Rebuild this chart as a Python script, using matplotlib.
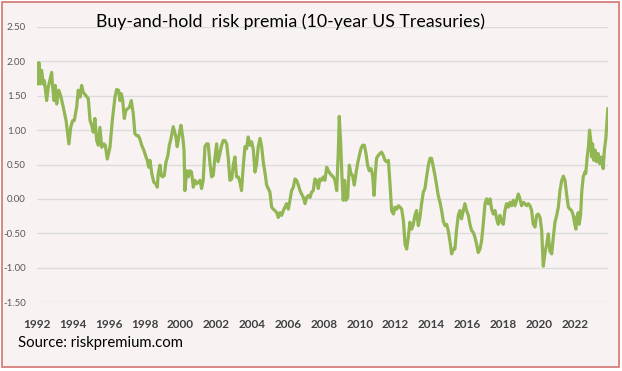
import matplotlib
matplotlib.use("Agg")
import matplotlib.pyplot as plt
from matplotlib.patches import Rectangle
from matplotlib.ticker import FormatStrFormatter

# decimal year, buy-and-hold risk premium
years = [
    1992.00, 1992.02, 1992.11, 1992.17, 1992.26, 1992.35, 1992.41, 1992.54, 1992.63, 1992.82,
    1992.87, 1992.95, 1993.02, 1993.10, 1993.21, 1993.32, 1993.47, 1993.62, 1993.78, 1993.88,
    1993.99, 1994.08, 1994.21, 1994.30, 1994.40, 1994.49, 1994.58, 1994.73, 1994.86, 1994.96,
    1995.05, 1995.14, 1995.23, 1995.33, 1995.42, 1995.51, 1995.61, 1995.74, 1995.81, 1995.92,
    1996.07, 1996.20, 1996.35, 1996.44, 1996.55, 1996.63, 1996.70, 1996.78, 1996.87, 1996.96,
    1997.05, 1997.15, 1997.26, 1997.37, 1997.46, 1997.56, 1997.65, 1997.74, 1997.84, 1997.97,
    1998.08, 1998.15, 1998.23, 1998.30, 1998.41, 1998.52, 1998.63, 1998.71, 1998.76, 1998.86,
    1998.93, 1999.00, 1999.10, 1999.19, 1999.30, 1999.38, 1999.47, 1999.60, 1999.75, 1999.82,
    1999.94, 2000.03, 2000.13, 2000.20, 2000.25, 2000.35, 2000.44, 2000.53, 2000.62, 2000.72,
    2000.81, 2000.90, 2000.99, 2001.09, 2001.18, 2001.27, 2001.37, 2001.46, 2001.55, 2001.65,
    2001.74, 2001.83, 2001.93, 2002.02, 2002.10, 2002.20, 2002.30, 2002.39, 2002.48, 2002.58,
    2002.67, 2002.76, 2002.86, 2002.95, 2003.04, 2003.13, 2003.23, 2003.32, 2003.41, 2003.50,
    2003.60, 2003.69, 2003.78, 2003.88, 2003.97, 2004.06, 2004.16, 2004.25, 2004.34, 2004.44,
    2004.53, 2004.62, 2004.71, 2004.81, 2004.90, 2004.99, 2005.09, 2005.18, 2005.27, 2005.37,
    2005.46, 2005.55, 2005.65, 2005.74, 2005.83, 2005.92, 2006.02, 2006.11, 2006.20, 2006.30,
    2006.39, 2006.48, 2006.58, 2006.67, 2006.76, 2006.86, 2006.95, 2007.04, 2007.14, 2007.23,
    2007.32, 2007.41, 2007.50, 2007.60, 2007.69, 2007.78, 2007.88, 2007.97, 2008.06, 2008.16,
    2008.25, 2008.34, 2008.44, 2008.53, 2008.62, 2008.72, 2008.81, 2008.86, 2008.94, 2009.01,
    2009.08, 2009.16, 2009.23, 2009.33, 2009.42, 2009.51, 2009.60, 2009.70, 2009.79, 2009.88,
    2009.98, 2010.07, 2010.16, 2010.26, 2010.35, 2010.44, 2010.53, 2010.63, 2010.72, 2010.80,
    2010.87, 2010.94, 2011.03, 2011.13, 2011.22, 2011.32, 2011.41, 2011.50, 2011.60, 2011.69,
    2011.78, 2011.88, 2011.97, 2012.06, 2012.16, 2012.25, 2012.34, 2012.44, 2012.53, 2012.62,
    2012.71, 2012.80, 2012.90, 2012.99, 2013.08, 2013.17, 2013.27, 2013.36, 2013.45, 2013.55,
    2013.64, 2013.73, 2013.83, 2013.92, 2014.01, 2014.11, 2014.20, 2014.29, 2014.38, 2014.48,
    2014.57, 2014.66, 2014.76, 2014.85, 2014.94, 2015.04, 2015.13, 2015.22, 2015.31, 2015.40,
    2015.50, 2015.59, 2015.68, 2015.78, 2015.87, 2015.96, 2016.06, 2016.15, 2016.24, 2016.34,
    2016.43, 2016.52, 2016.61, 2016.71, 2016.80, 2016.89, 2016.99, 2017.08, 2017.17, 2017.27,
    2017.36, 2017.45, 2017.55, 2017.64, 2017.73, 2017.82, 2017.92, 2018.01, 2018.10, 2018.19,
    2018.29, 2018.38, 2018.47, 2018.57, 2018.66, 2018.75, 2018.85, 2018.94, 2019.03, 2019.13,
    2019.22, 2019.31, 2019.40, 2019.50, 2019.59, 2019.68, 2019.78, 2019.87, 2019.96, 2020.06,
    2020.15, 2020.24, 2020.34, 2020.43, 2020.52, 2020.61, 2020.71, 2020.80, 2020.89, 2020.99,
    2021.08, 2021.17, 2021.27, 2021.36, 2021.45, 2021.54, 2021.64, 2021.73, 2021.82, 2021.91,
    2022.00, 2022.06, 2022.10, 2022.19, 2022.24, 2022.32, 2022.39, 2022.47, 2022.56, 2022.61,
    2022.69, 2022.76, 2022.82, 2022.89, 2022.93, 2022.99, 2023.06, 2023.13, 2023.21, 2023.30,
    2023.39, 2023.49, 2023.58, 2023.65, 2023.73, 2023.80, 2023.84,
]
premia = [
    1.97, 1.67, 1.98, 1.67, 1.87, 1.67, 1.72, 1.43, 1.63, 1.84,
    1.63, 1.43, 1.65, 1.38, 1.58, 1.50, 1.33, 1.14, 0.80, 1.04,
    1.14, 1.14, 1.33, 1.58, 1.48, 1.65, 1.55, 1.50, 1.46, 1.14,
    1.07, 0.97, 1.17, 0.85, 0.78, 1.04, 0.75, 0.80, 0.78, 0.58,
    0.75, 1.14, 1.48, 1.59, 1.58, 1.43, 1.53, 1.43, 1.17, 1.29,
    1.31, 1.33, 1.43, 1.24, 0.95, 0.92, 0.92, 0.87, 0.78, 0.70,
    0.61, 0.56, 0.46, 0.56, 0.36, 0.24, 0.22, 0.17, 0.36, 0.49,
    0.34, 0.32, 0.34, 0.53, 0.63, 0.78, 0.87, 1.05, 0.90, 0.76,
    0.95, 1.07, 0.90, 0.71, 0.12, 0.41, 0.32, 0.41, 0.39, 0.17,
    0.27, 0.22, 0.24, 0.27, 0.15, 0.27, 0.76, 0.80, 0.80, 0.51,
    0.32, 0.34, 0.61, 0.80, 0.54, 0.66, 0.78, 0.85, 0.85, 0.80,
    0.59, 0.27, 0.29, 0.49, 0.61, 0.32, 0.32, 0.24, 0.12, 0.46,
    0.76, 0.73, 0.90, 0.78, 0.83, 0.73, 0.39, 0.51, 0.76, 0.88,
    0.76, 0.54, 0.39, 0.20, 0.15, 0.10, -0.12, -0.15, -0.17, -0.20,
    -0.27, -0.20, -0.24, -0.17, -0.12, -0.07, -0.15, -0.02, 0.12, 0.17,
    0.29, 0.27, 0.20, 0.12, 0.07, 0.02, -0.07, 0.02, 0.05, 0.02,
    0.10, 0.12, 0.29, 0.27, 0.15, 0.29, 0.27, 0.32, 0.27, 0.46,
    0.41, 0.37, 0.34, 0.32, 0.27, 0.12, 0.71, 1.20, 0.80, 0.32,
    -0.02, 0.27, -0.02, 0.02, 0.49, 0.37, 0.34, 0.20, 0.37, 0.51,
    0.63, 0.73, 0.78, 0.78, 0.66, 0.49, 0.41, 0.44, 0.34, 0.05,
    0.37, 0.59, 0.63, 0.66, 0.68, 0.63, 0.56, 0.54, 0.56, 0.22,
    -0.17, -0.22, -0.12, -0.15, -0.10, -0.12, -0.15, -0.32, -0.66, -0.73,
    -0.56, -0.34, -0.44, -0.37, -0.24, -0.17, -0.39, -0.27, -0.07, 0.10,
    0.15, 0.32, 0.49, 0.59, 0.59, 0.46, 0.34, 0.20, 0.05, -0.05,
    -0.17, -0.32, -0.39, -0.37, -0.46, -0.63, -0.80, -0.73, -0.73, -0.46,
    -0.24, -0.17, -0.29, -0.17, -0.07, -0.17, -0.24, -0.37, -0.46, -0.49,
    -0.56, -0.66, -0.78, -0.73, -0.61, -0.37, -0.07, 0.00, -0.07, 0.00,
    -0.15, -0.22, -0.17, -0.29, -0.37, -0.24, -0.34, -0.37, -0.17, -0.07,
    -0.12, -0.05, -0.10, -0.02, -0.10, -0.02, 0.07, 0.00, -0.10, -0.05,
    -0.07, -0.10, -0.07, -0.10, -0.17, -0.37, -0.41, -0.24, -0.22, -0.27,
    -0.46, -0.98, -0.78, -0.66, -0.51, -0.76, -0.80, -0.56, -0.34, -0.24,
    -0.12, 0.12, 0.27, 0.33, 0.27, 0.07, -0.12, -0.15, -0.17, -0.24,
    -0.37, -0.44, -0.27, -0.20, -0.37, -0.24, 0.12, 0.32, 0.39, 0.37,
    0.61, 0.76, 1.00, 0.85, 0.61, 0.80, 0.56, 0.71, 0.54, 0.66,
    0.51, 0.61, 0.44, 0.71, 0.88, 1.15, 1.31,
]

x_ticks = list(range(1992, 2023, 2))
y_ticks = [-1.5, -1.0, -0.5, 0.0, 0.5, 1.0, 1.5, 2.0, 2.5]

W, H = 622, 371
fig = plt.figure(figsize=(W / 100, H / 100), dpi=100, facecolor="white")

# pinkish panel with red frame, behind everything
fig.patches.append(Rectangle((2 / W, 4 / H), 617 / W, 365 / H, transform=fig.transFigure,
                             facecolor="#f8f3f2", edgecolor="#d47470", linewidth=1.2, zorder=-5))

ax = fig.add_axes([37 / W, 1 - 302 / H, 571 / W, 275 / H], zorder=2)
ax.set_facecolor("none")

ax.plot(years, premia, color="#92b654", linewidth=2.3, solid_joinstyle="round", zorder=3)

ax.set_xlim(1992, 2023.85)
ax.set_ylim(-1.5, 2.5)
ax.set_xticks(x_ticks)
ax.set_yticks(y_ticks)
ax.yaxis.set_major_formatter(FormatStrFormatter("%.2f"))
ax.grid(axis="y", color="#dcdcdc", linewidth=1)
ax.set_axisbelow(True)
for s in ax.spines.values():
    s.set_visible(False)
ax.tick_params(length=0)
ax.tick_params(axis="y", labelsize=7, labelcolor="#595959", pad=8)
ax.tick_params(axis="x", labelsize=8.5, labelcolor="#404040", pad=12)
for lab in ax.get_xticklabels():
    lab.set_fontweight("bold")
    lab.set_family("Lato")
for lab in ax.get_yticklabels():
    lab.set_family("Lato")

fig.text(290 / W, 1 - 22 / H, "Buy-and-hold  risk premia (10-year US Treasuries)",
         ha="center", va="center", fontsize=12.8, family="Lato", color="black", zorder=3)
fig.text(18 / W, 1 - 343 / H, "Source: riskpremium.com",
         ha="left", va="center", fontsize=10.7, family="Lato", color="black", zorder=3)

fig.savefig("out.png", dpi=100, facecolor="white")
